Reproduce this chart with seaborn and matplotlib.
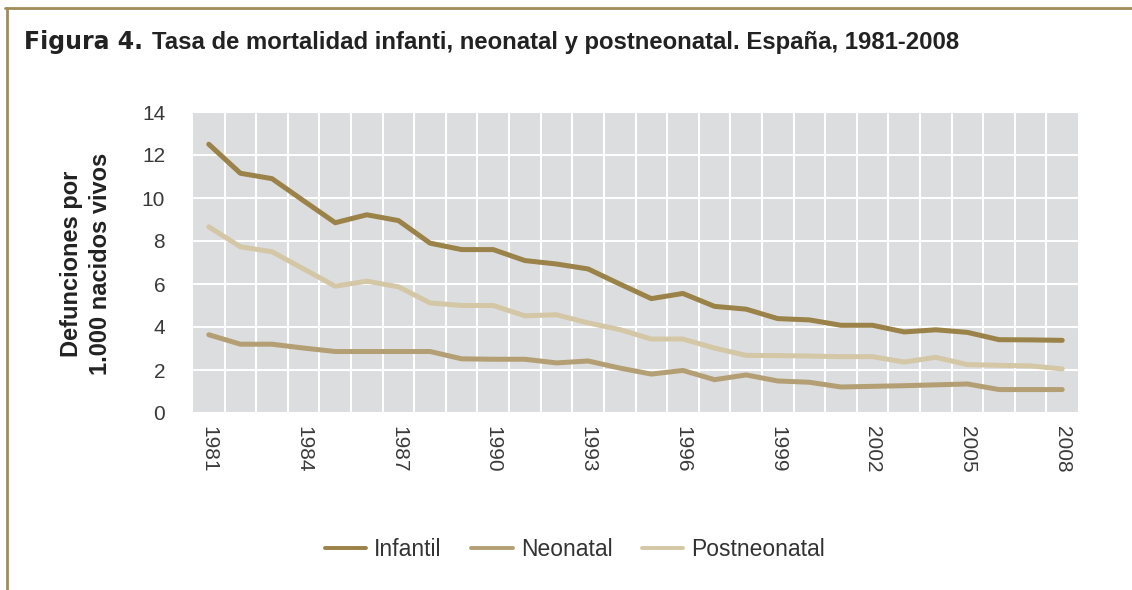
import numpy as np
import pandas as pd
import matplotlib
matplotlib.use("Agg")
import matplotlib.pyplot as plt
import seaborn as sns
from matplotlib.lines import Line2D

# Data
years = list(range(1981, 2009))
infantil = [12.5, 11.15, 10.9, 9.87, 8.85, 9.22, 8.95, 7.9, 7.6, 7.6,
            7.09, 6.93, 6.7, 6.0, 5.32, 5.56, 4.96, 4.83, 4.39, 4.33,
            4.08, 4.08, 3.77, 3.87, 3.75, 3.41, 3.40, 3.38]
neonatal = [3.64, 3.2, 3.2, 3.02, 2.86, 2.86, 2.86, 2.86, 2.52, 2.5,
            2.5, 2.33, 2.42, 2.09, 1.81, 1.98, 1.55, 1.77, 1.49, 1.43,
            1.21, 1.24, 1.27, 1.31, 1.35, 1.09, 1.09, 1.09]
postneonatal = [8.66, 7.73, 7.5, 6.7, 5.9, 6.13, 5.87, 5.12, 5.0, 5.0,
                4.52, 4.57, 4.19, 3.88, 3.44, 3.44, 3.02, 2.68, 2.67, 2.65,
                2.62, 2.62, 2.37, 2.59, 2.25, 2.22, 2.19, 2.05]
series_names = ["Infantil", "Neonatal", "Postneonatal"]
colors = ["#9a8248", "#b49f74", "#d4c7a6"]
xtick_years = list(range(1981, 2009, 3))

df = pd.DataFrame({"Año": years, "Infantil": infantil,
                   "Neonatal": neonatal, "Postneonatal": postneonatal})
long_df = df.melt(id_vars="Año", var_name="Serie", value_name="Tasa")

sns.set_theme(style="white")
plt.rcParams["font.family"] = ["Liberation Sans", "DejaVu Sans"]

fig = plt.figure(figsize=(11.32, 5.90), dpi=100)
ax = fig.add_axes([193 / 1132, 1 - 413 / 590, (1078 - 193) / 1132, (413 - 112) / 590])
ax.set_facecolor("#dcdddf")

sns.lineplot(data=long_df, x="Año", y="Tasa", hue="Serie", hue_order=series_names,
             palette=colors, linewidth=3.6, ax=ax, legend=False)

ax.set_xlim(years[0] - 0.5, years[-1] + 0.5)
ax.set_ylim(0, 14)
ax.set_yticks(range(0, 15, 2))
ax.set_xticks(xtick_years)
ax.set_xticks([y + 0.5 for y in years[:-1]], minor=True)
ax.set_xticklabels([str(y) for y in xtick_years], rotation=-90, fontsize=15, color="#3a3a3a")
ax.tick_params(axis="y", labelsize=15, labelcolor="#3a3a3a", length=0, pad=20)
ax.tick_params(axis="x", which="both", length=0, pad=9)
ax.grid(False)
ax.grid(axis="y", which="major", color="white", linewidth=1.5)
ax.grid(axis="x", which="minor", color="white", linewidth=1.5)
for s in ax.spines.values():
    s.set_visible(False)
ax.set_xlabel("")
ax.set_ylabel("")

fig.text(86 / 1132, 1 - 264 / 590, "Defunciones por\n1.000 nacidos vivos",
         rotation=90, ha="center", va="center", multialignment="center",
         fontsize=17, fontweight="bold", color="#222222", linespacing=1.3)

# Title in two parts: heavy label + bold text
t1 = fig.text(24 / 1132, 1 - 42 / 590, "Figura 4.", fontsize=17,
              fontweight="bold", family=["DejaVu Sans"],
              color="#222222", va="center", ha="left")
fig.canvas.draw()
bb = t1.get_window_extent()
fig.text((bb.x1 + 9) / 1132, 1 - 42 / 590,
         "Tasa de mortalidad infanti, neonatal y postneonatal. España, 1981-2008",
         fontsize=17.2, fontweight="bold", color="#222222", va="center", ha="left")

# Legend
handles = [Line2D([0], [0], color=c, linewidth=2.8) for c in colors]
fig.legend(handles, series_names, loc="center", bbox_to_anchor=(575 / 1132, 1 - 550 / 590),
           ncol=3, frameon=False, fontsize=16.5, handlelength=1.8, columnspacing=1.3,
           handletextpad=0.35, labelcolor="#333333")

# Frame lines
frame_col = "#a08c58"
fig.add_artist(Line2D([5 / 1132, 1], [1 - 8 / 590, 1 - 8 / 590], color=frame_col,
                      linewidth=2, transform=fig.transFigure))
fig.add_artist(Line2D([7 / 1132, 7 / 1132], [0, 1 - 8 / 590], color=frame_col,
                      linewidth=2, transform=fig.transFigure))

fig.savefig("out.png", dpi=100)
